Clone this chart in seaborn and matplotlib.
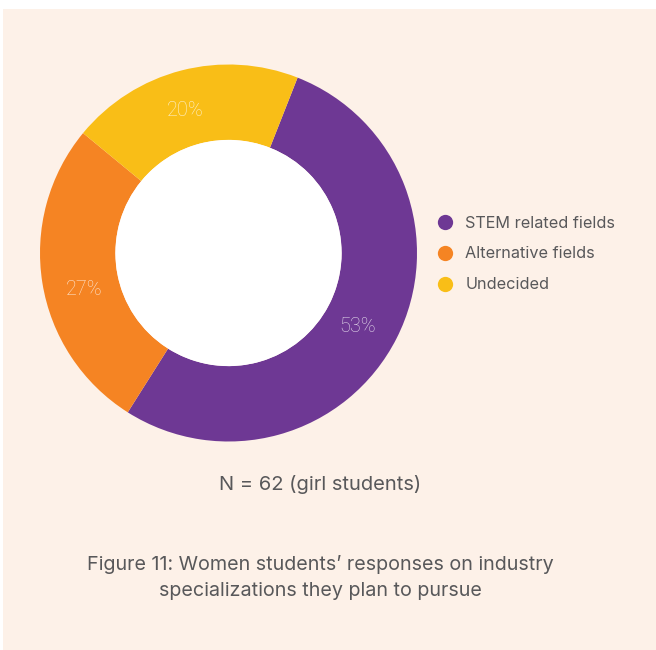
import matplotlib
matplotlib.use("Agg")
import numpy as np
import matplotlib.pyplot as plt
import seaborn as sns
from matplotlib.lines import Line2D
from matplotlib.patches import Rectangle, Circle

# data
categories = ['STEM related fields', 'Alternative fields', 'Undecided']
shares = [53, 27, 20]
pct_labels = ['53%', '27%', '20%']
colors = ['#6E3894', '#F58423', '#F9BE17']

sns.set_theme(style='white')
plt.rcParams['font.family'] = ['Inter', 'DejaVu Sans']

bg = '#FDF1E8'
text_grey = '#58585A'

fig = plt.figure(figsize=(6.56, 6.50), dpi=100, facecolor='white')
# peach panel behind everything
fig.patches.append(Rectangle((3 / 656, 0), 1, 1 - 9 / 650, transform=fig.transFigure,
                             facecolor=bg, edgecolor='none', zorder=-10))

ax = fig.add_axes([40 / 656, 1 - 441.5 / 650, 377 / 656, 377 / 650])
ax.set_facecolor('none')
ax.set_zorder(1)
pal = sns.color_palette(colors)

wedges, _, autotexts = ax.pie(shares, colors=pal, startangle=68.5, counterclock=False,
                              autopct='%d%%', pctdistance=0.8,
                              wedgeprops=dict(width=0.4, edgecolor='none'))
# labels in the source sit a little off the slice middles
label_angles = [-29.7, 194.2, 106.7]
for t, lab, ang in zip(autotexts, pct_labels, label_angles):
    t.set_text(lab)
    t.set_position((0.79 * np.cos(np.radians(ang)), 0.79 * np.sin(np.radians(ang))))
    t.set_color('white')
    t.set_alpha(0.8)
    t.set_fontsize(14.3)
    t.set_fontfamily('Roboto')
    t.set_fontweight('light')

ax.add_patch(Circle((0, 0), 0.6, facecolor='white', edgecolor='none'))
ax.set_xlim(-1, 1)
ax.set_ylim(-1, 1)
ax.set_aspect('equal')
ax.axis('off')

handles = [Line2D([], [], linestyle='none', marker='o', markersize=11,
                  markerfacecolor=c, markeredgecolor='none') for c in colors]
fig.legend(handles, categories, loc='center left', bbox_to_anchor=(436.7 / 656, 1 - 254 / 650),
           frameon=False, fontsize=11.7, labelcolor=text_grey, handlelength=1.0,
           handletextpad=0.75, labelspacing=0.97, borderpad=0, borderaxespad=0)

fig.text(320 / 656, 1 - 485 / 650, 'N = 62 (girl students)', ha='center', va='center',
         fontsize=14.5, color=text_grey)
fig.text(320 / 656, 1 - 577.5 / 650,
         'Figure 11: Women students\u2019 responses on industry\nspecializations they plan to pursue',
         ha='center', va='center', fontsize=14.2, color=text_grey, linespacing=1.6)

fig.savefig('out.png', dpi=100, facecolor=fig.get_facecolor())
